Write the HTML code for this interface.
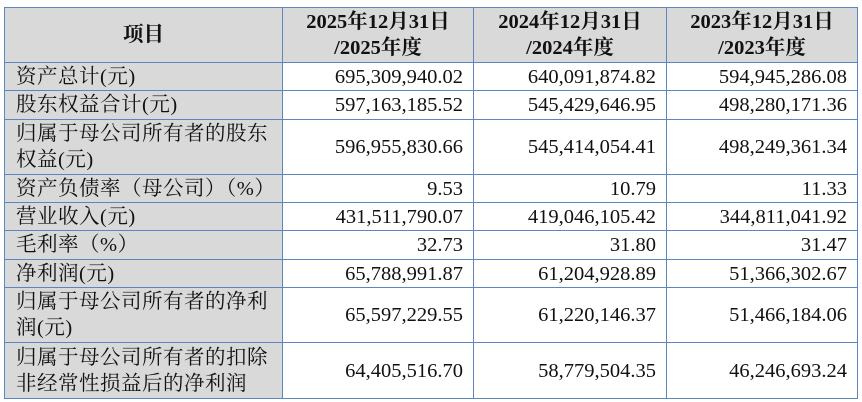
<!DOCTYPE html>
<html><head><meta charset="utf-8"><style>
html,body{margin:0;padding:0;background:#fff;width:862px;height:402px;overflow:hidden}
table{position:absolute;left:4px;top:7px;border-collapse:collapse;table-layout:fixed;font-family:"Liberation Serif","Noto Serif CJK SC",serif;font-size:20.5px;color:#111}
td{border:1px solid #5b86c0;padding:0;line-height:26px;overflow:hidden}
td.l{background:#d9d9d9;padding-left:11px;letter-spacing:0.5px}
td.n{text-align:right;padding-right:10px;background:#fff}
tr.h td{background:#d9d9d9;font-weight:bold;text-align:center;line-height:26px}
</style></head><body>
<table>
<colgroup><col style="width:278px"><col style="width:191px"><col style="width:193px"><col style="width:191px"></colgroup>
<tr class="h" style="height:55px"><td>项目</td><td>2025年12月31日<br>/2025年度</td><td>2024年12月31日<br>/2024年度</td><td>2023年12月31日<br>/2023年度</td></tr>
<tr style="height:28px"><td class="l">资产总计(元)</td><td class="n">695,309,940.02</td><td class="n">640,091,874.82</td><td class="n">594,945,286.08</td></tr>
<tr style="height:29px"><td class="l">股东权益合计(元)</td><td class="n">597,163,185.52</td><td class="n">545,429,646.95</td><td class="n">498,280,171.36</td></tr>
<tr style="height:55px"><td class="l">归属于母公司所有者的股东<br>权益(元)</td><td class="n">596,955,830.66</td><td class="n">545,414,054.41</td><td class="n">498,249,361.34</td></tr>
<tr style="height:28px"><td class="l">资产负债率（母公司）（%）</td><td class="n">9.53</td><td class="n">10.79</td><td class="n">11.33</td></tr>
<tr style="height:28px"><td class="l">营业收入(元)</td><td class="n">431,511,790.07</td><td class="n">419,046,105.42</td><td class="n">344,811,041.92</td></tr>
<tr style="height:29px"><td class="l">毛利率（%）</td><td class="n">32.73</td><td class="n">31.80</td><td class="n">31.47</td></tr>
<tr style="height:28px"><td class="l">净利润(元)</td><td class="n">65,788,991.87</td><td class="n">61,204,928.89</td><td class="n">51,366,302.67</td></tr>
<tr style="height:55px"><td class="l">归属于母公司所有者的净利<br>润(元)</td><td class="n">65,597,229.55</td><td class="n">61,220,146.37</td><td class="n">51,466,184.06</td></tr>
<tr style="height:56px"><td class="l">归属于母公司所有者的扣除<br>非经常性损益后的净利润</td><td class="n">64,405,516.70</td><td class="n">58,779,504.35</td><td class="n">46,246,693.24</td></tr>
</table>
</body></html>
